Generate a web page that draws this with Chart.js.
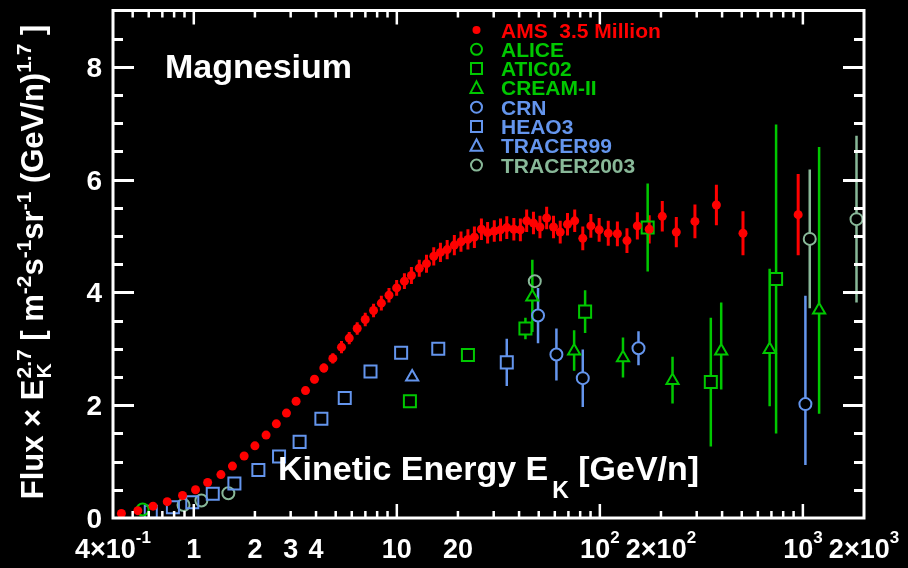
<!DOCTYPE html>
<html lang="en">
<head>
<meta charset="UTF-8">
<title>Magnesium</title>
<style>
  html, body { margin: 0; padding: 0; background: #000; }
  canvas { display: block; }
</style>
</head>
<body>
<canvas id="myCanvas" width="908" height="568"></canvas>

<script src="https://cdn.jsdelivr.net/npm/chart.js@4.4.1/dist/chart.umd.min.js"></script>
<script>

// ---- data (kinetic energy in GeV/n, flux x E^2.7) ----
var amsE = [0.44, 0.53, 0.63, 0.74, 0.88, 1.02, 1.17, 1.36, 1.55, 1.77, 2.0, 2.27, 2.55, 2.86, 3.19, 3.55, 3.93, 4.37, 4.84, 5.34,
    5.83, 6.38, 6.99, 7.68, 8.39, 9.15, 9.98, 10.9, 11.8, 12.9, 14.0, 15.2, 16.4, 17.7, 19.2, 20.7, 22.4, 24.1, 26.1, 28.0,
    30.2, 32.4, 34.8, 37.7, 40.6, 43.6, 47.1, 50.7, 54.7, 59.1, 63.8, 69.3, 75.2, 82.4, 90.3, 99.2, 110, 122, 136, 153,
    175, 203, 238, 294, 375, 507, 948];
var amsFlux = [0.08, 0.13, 0.21, 0.29, 0.40, 0.50, 0.63, 0.77, 0.92, 1.10, 1.28, 1.47, 1.67, 1.86, 2.07, 2.26, 2.46, 2.66, 2.83, 3.03,
    3.19, 3.36, 3.52, 3.68, 3.81, 3.95, 4.08, 4.20, 4.30, 4.43, 4.51, 4.64, 4.71, 4.76, 4.84, 4.90, 4.94, 4.98, 5.12, 5.06,
    5.09, 5.11, 5.15, 5.12, 5.11, 5.27, 5.23, 5.16, 5.32, 5.16, 5.07, 5.21, 5.27, 4.96, 5.18, 5.11, 5.05, 5.04, 4.92, 5.18,
    5.12, 5.35, 5.07, 5.26, 5.55, 5.05, 5.38];
var amsErr = [0.02, 0.02, 0.02, 0.02, 0.02, 0.02, 0.02, 0.02, 0.02, 0.02, 0.03, 0.03, 0.04, 0.04, 0.05, 0.06, 0.07, 0.08, 0.09, 0.11,
    0.11, 0.11, 0.12, 0.12, 0.13, 0.13, 0.14, 0.14, 0.15, 0.15, 0.16, 0.16, 0.17, 0.17, 0.18, 0.18, 0.18, 0.19, 0.19, 0.19,
    0.19, 0.2, 0.2, 0.2, 0.2, 0.2, 0.2, 0.2, 0.2, 0.2, 0.2, 0.2, 0.2, 0.21, 0.21, 0.21, 0.22, 0.22, 0.22, 0.24,
    0.25, 0.27, 0.27, 0.30, 0.36, 0.39, 0.72];

var aliceE = [0.56];
var aliceFlux = [0.15];
var aliceErr = [0];

var atic02E = [11.6, 22.4, 43.0, 84.6, 172, 352, 738];
var atic02Flux = [2.07, 2.89, 3.36, 3.66, 5.15, 2.41, 4.24];
var atic02Err = [0, 0, 0.19, 0.38, 0.78, 1.14, 2.74];

var creamE = [46.5, 74.7, 130, 228, 396, 686, 1202];
var creamFlux = [3.92, 2.96, 2.84, 2.44, 2.96, 2.99, 3.69];
var creamErrHi = [0.66, 0.37, 0.36, 0.42, 0.86, 1.43, 2.89];
var creamErrLo = [0.62, 0.35, 0.35, 0.41, 0.68, 1.01, 1.84];

var crnE = [49.6, 61.1, 82.4, 155, 1029];
var crnFlux = [3.59, 2.90, 2.48, 3.01, 2.02];
var crnErrHi = [0.49, 0.46, 0.51, 0.30, 1.92];
var crnErrLo = [0.49, 0.46, 0.51, 0.30, 1.08];

var heao3E = [0.614, 0.789, 0.983, 1.24, 1.585, 2.08, 2.63, 3.32, 4.25, 5.54, 7.42, 10.5, 16.0, 34.8];
var heao3Flux = [0.11, 0.19, 0.28, 0.43, 0.61, 0.85, 1.09, 1.35, 1.76, 2.13, 2.60, 2.93, 3.00, 2.76];
var heao3Err = [0, 0, 0, 0, 0, 0, 0, 0, 0, 0, 0, 0, 0, 0.42];

var tracer99E = [11.9];
var tracer99Flux = [2.50];
var tracer99Err = [0];

var tracer03E = [0.89, 1.09, 1.48, 47.8, 1081, 1837];
var tracer03Flux = [0.23, 0.31, 0.44, 4.20, 4.95, 5.30];
var tracer03Err = [0, 0, 0, 0, 1.23, 1.48];

var xTicks = [0.4, 1, 2, 3, 4, 10, 20, 100, 200, 1000, 2000];
var xTickLabels = ['4×10^-1', '1', '2', '3', '4', '10', '20', '10^2', '2×10^2', '10^3', '2×10^3'];
var yTicks = [0, 2, 4, 6, 8];
var yTickLabels = ['0', '2', '4', '6', '8'];

var RED = '#ff0000';
var GREEN = '#00c800';
var BLUE = '#6495ed';
var GREY = '#88b898';
var FONT = '"Liberation Sans", Arial, Helvetica, sans-serif';

var series = [
    {name: 'AMS  3.5 Million', color: RED, style: 'dot', e: amsE, f: amsFlux, hi: amsErr, lo: amsErr},
    {name: 'ALICE', color: GREEN, style: 'circle', e: aliceE, f: aliceFlux, hi: aliceErr, lo: aliceErr},
    {name: 'ATIC02', color: GREEN, style: 'rect', e: atic02E, f: atic02Flux, hi: atic02Err, lo: atic02Err},
    {name: 'CREAM-II', color: GREEN, style: 'triangle', e: creamE, f: creamFlux, hi: creamErrHi, lo: creamErrLo},
    {name: 'CRN', color: BLUE, style: 'circle', e: crnE, f: crnFlux, hi: crnErrHi, lo: crnErrLo},
    {name: 'HEAO3', color: BLUE, style: 'rect', e: heao3E, f: heao3Flux, hi: heao3Err, lo: heao3Err},
    {name: 'TRACER99', color: BLUE, style: 'triangle', e: tracer99E, f: tracer99Flux, hi: tracer99Err, lo: tracer99Err},
    {name: 'TRACER2003', color: GREY, style: 'circle', e: tracer03E, f: tracer03Flux, hi: tracer03Err, lo: tracer03Err}
];

// marker sizes: radius for chart.js and gap kept free on the error bars
var markers = {
    dot: {pointStyle: 'circle', radius: 4.5, up: 0, down: 0},
    circle: {pointStyle: 'circle', radius: 6, up: 6, down: 6},
    rect: {pointStyle: 'rect', radius: 8.5, up: 6, down: 6},
    triangle: {pointStyle: 'triangle', radius: 7, up: 7, down: 3.5}
};

function font(size) {
    return 'bold ' + size + 'px ' + FONT;
}

// draws a row of text pieces (with sup/sub offsets)
function drawParts(ctx, parts, x, y, align) {
    var total = 0;
    parts.forEach(function (p) {
        ctx.font = font(p.size);
        p.w = ctx.measureText(p.t).width;
        if (p.under) {
            p.w = Math.max(p.w, ctx.measureText(p.under).width);
        }
        total += p.w + (p.pad || 0);
    });
    var cx = x;
    if (align === 'center') cx = x - total / 2;
    if (align === 'right') cx = x - total;
    parts.forEach(function (p) {
        ctx.font = font(p.size);
        ctx.fillText(p.t, cx + (p.pad || 0), y + (p.dy || 0));
        if (p.under) ctx.fillText(p.under, cx + (p.pad || 0), y + p.underDy);
        cx += p.w + (p.pad || 0);
    });
}

function tickParts(label, size, supSize, raise) {
    var bits = label.split('^');
    var parts = [{t: bits[0], size: size}];
    if (bits[1]) parts.push({t: bits[1], size: supSize, dy: -raise});
    return parts;
}

function drawMarker(ctx, style, color, x, y) {
    ctx.save();
    ctx.strokeStyle = color;
    ctx.fillStyle = color;
    ctx.lineWidth = 2;
    ctx.beginPath();
    if (style === 'dot') {
        ctx.arc(x, y, 4, 0, Math.PI * 2);
        ctx.fill();
    } else if (style === 'circle') {
        ctx.arc(x, y, 5.5, 0, Math.PI * 2);
        ctx.stroke();
    } else if (style === 'rect') {
        ctx.rect(x - 5.5, y - 5.5, 11, 11);
        ctx.stroke();
    } else {
        ctx.moveTo(x, y - 6.5);
        ctx.lineTo(x + 6, y + 5);
        ctx.lineTo(x - 6, y + 5);
        ctx.closePath();
        ctx.stroke();
    }
    ctx.restore();
}

var datasets = series.map(function (s) {
    var m = markers[s.style];
    return {
        label: s.name,
        data: s.e.map(function (e, i) { return {x: e, y: s.f[i]}; }),
        errHi: s.hi,
        errLo: s.lo,
        gapUp: m.up,
        gapDown: m.down,
        color: s.color,
        showLine: false,
        pointStyle: m.pointStyle,
        pointRadius: m.radius,
        pointHoverRadius: m.radius,
        pointBorderWidth: s.style === 'dot' ? 0 : 2,
        pointBorderColor: s.color,
        pointBackgroundColor: s.style === 'dot' ? s.color : 'rgba(0,0,0,0)'
    };
});

var background = {
    id: 'background',
    beforeDraw: function (chart) {
        var ctx = chart.ctx;
        ctx.save();
        ctx.fillStyle = '#000';
        ctx.fillRect(0, 0, chart.width, chart.height);
        ctx.restore();
    }
};

var errorBars = {
    id: 'errorBars',
    beforeDatasetsDraw: function (chart) {
        var ctx = chart.ctx, area = chart.chartArea;
        var xs = chart.scales.x, ys = chart.scales.y;
        ctx.save();
        ctx.beginPath();
        ctx.rect(area.left, area.top, area.right - area.left, area.bottom - area.top);
        ctx.clip();
        chart.data.datasets.forEach(function (ds) {
            ctx.strokeStyle = ds.color;
            ctx.lineWidth = ds.gapUp === 0 ? 3 : 2.5;
            ds.data.forEach(function (pt, i) {
                var px = xs.getPixelForValue(pt.x);
                var py = ys.getPixelForValue(pt.y);
                var top = ys.getPixelForValue(pt.y + ds.errHi[i]);
                var bot = ys.getPixelForValue(pt.y - ds.errLo[i]);
                ctx.beginPath();
                if (top < py - ds.gapUp) {
                    ctx.moveTo(px, top);
                    ctx.lineTo(px, py - ds.gapUp);
                }
                if (bot > py + ds.gapDown) {
                    ctx.moveTo(px, py + ds.gapDown);
                    ctx.lineTo(px, bot);
                }
                ctx.stroke();
            });
        });
        ctx.restore();
    }
};

var frame = {
    id: 'frame',
    afterDraw: function (chart) {
        var ctx = chart.ctx, a = chart.chartArea;
        var xs = chart.scales.x, ys = chart.scales.y;
        ctx.save();
        ctx.strokeStyle = '#fff';
        ctx.fillStyle = '#fff';

        // box
        ctx.lineWidth = 3;
        ctx.strokeRect(a.left, a.top, a.right - a.left, a.bottom - a.top);

        // y ticks, both sides, pointing in
        for (var v = 0.5; v < ys.max; v += 0.5) {
            var py = Math.round(ys.getPixelForValue(v)) + 0.5;
            var len = (v % 2 === 0) ? 21 : 10;
            ctx.beginPath();
            ctx.moveTo(a.left, py); ctx.lineTo(a.left + len, py);
            ctx.moveTo(a.right, py); ctx.lineTo(a.right - len, py);
            ctx.stroke();
        }

        // x ticks, top and bottom
        ctx.lineWidth = 2.5;
        for (var d = -1; d <= 3; d++) {
            for (var m = 1; m <= 9; m++) {
                var val = m * Math.pow(10, d);
                if (val <= xs.min || val >= xs.max) continue;
                var px = xs.getPixelForValue(val);
                var l = m === 1 ? 14 : 7;
                ctx.beginPath();
                ctx.moveTo(px, a.bottom); ctx.lineTo(px, a.bottom - l);
                ctx.moveTo(px, a.top); ctx.lineTo(px, a.top + l);
                ctx.stroke();
            }
        }

        // tick labels
        ctx.textBaseline = 'alphabetic';
        xTicks.forEach(function (t, i) {
            drawParts(ctx, tickParts(xTickLabels[i], 27, 17, 15), xs.getPixelForValue(t), 558, 'center');
        });
        yTicks.forEach(function (t, i) {
            drawParts(ctx, [{t: yTickLabels[i], size: 28}], 102, ys.getPixelForValue(t) + 10, 'right');
        });

        // axis titles
        drawParts(ctx, [
            {t: 'Kinetic Energy E', size: 34},
            {t: 'K', size: 23, dy: 18, pad: 4},
            {t: ' [GeV/n]', size: 34}
        ], 278, 480, 'left');

        ctx.save();
        ctx.translate(43, 262);
        ctx.rotate(-Math.PI / 2);
        drawParts(ctx, [
            {t: 'Flux × E', size: 31},
            {t: '2.7', size: 21, dy: -12, under: 'K', underDy: 8, pad: 1},
            {t: ' [ m', size: 31},
            {t: '-2', size: 21, dy: -12},
            {t: 's', size: 31},
            {t: '-1', size: 21, dy: -12},
            {t: 'sr', size: 31},
            {t: '-1', size: 21, dy: -12},
            {t: ' (GeV/n)', size: 31},
            {t: '1.7', size: 21, dy: -12},
            {t: ' ]', size: 31}
        ], 0, 0, 'center');
        ctx.restore();

        // element name
        drawParts(ctx, [{t: 'Magnesium', size: 34}], 165, 78, 'left');

        // legend
        series.forEach(function (s, i) {
            var ly = 30 + i * 19.3;
            drawMarker(ctx, s.style, s.color, 476.5, ly);
            ctx.fillStyle = s.color;
            drawParts(ctx, [{t: s.name, size: 21}], 501, ly + 7.5, 'left');
        });

        ctx.restore();
    }
};

var canvas = document.getElementById('myCanvas');
var context = canvas.getContext('2d');

var fluxChart = new Chart(context, {
    type: 'scatter',
    data: {datasets: datasets},
    options: {
        responsive: false,
        animation: false,
        devicePixelRatio: 1,
        layout: {padding: {left: 113, right: 44, top: 10, bottom: 50}},
        scales: {
            x: {type: 'logarithmic', min: 0.4, max: 2000, display: false},
            y: {type: 'linear', min: 0, max: 9, display: false}
        },
        plugins: {
            legend: {display: false},
            tooltip: {enabled: false}
        }
    },
    plugins: [background, errorBars, frame]
});
</script>
</body>
</html>
